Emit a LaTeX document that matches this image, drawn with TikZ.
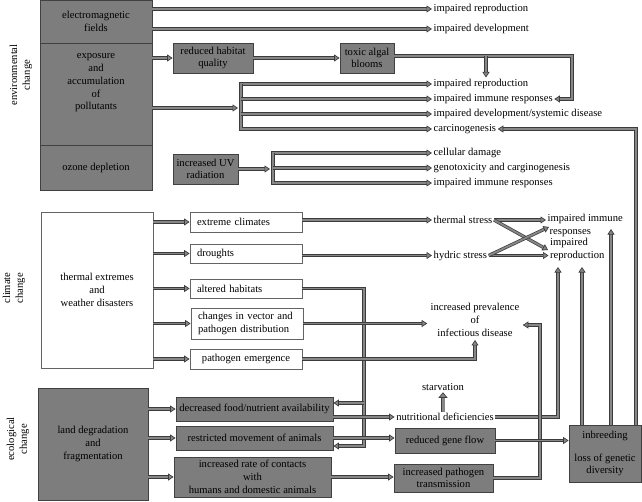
\documentclass[tikz,border=0pt]{standalone}
\usepackage{fontspec}
\setmainfont{Liberation Serif}
\usetikzlibrary{arrows.meta}
\definecolor{boxgray}{RGB}{125,125,125}
\definecolor{boxedge}{RGB}{65,65,65}
\definecolor{linein}{RGB}{135,135,135}
\definecolor{lineedge}{RGB}{60,60,60}
\definecolor{wedge}{RGB}{100,100,100}
\begin{document}
\begin{tikzpicture}[x=1pt,y=-1pt, font=\fontsize{10.6}{12.7}\selectfont,
 gbox/.style={draw=boxedge, fill=boxgray, line width=0.8pt, inner sep=1pt, align=center},
 wbox/.style={draw=wedge, fill=white, line width=0.8pt, inner xsep=7pt, inner ysep=1pt, text width=98pt, align=left},
 lbl/.style={inner sep=1.5pt, anchor=west},
 dl/.style={draw=lineedge, line width=0.7pt, double=linein, double distance=1.9pt},
 arr/.style={dl, -{Triangle[length=5.5pt,width=7pt,fill=linein]}},
 fatarr/.style={draw=lineedge, line width=0.7pt, double=linein, double distance=3pt, -{Triangle[length=5.5pt,width=9pt,fill=linein]}},
 side/.style={rotate=90, align=center}
]
\useasboundingbox (0,0) rectangle (642,501);

% side labels
\node[side] (envl) at (21,75) {environmental\\change};
\node[side] (clil) at (14,288) {climate\\change};
\node[side] (ecol) at (18,439) {ecological\\change};

% ---------------- environmental change
\node[gbox, minimum width=112pt, minimum height=43pt] (em) at (96,21.5) {electromagnetic\\fields};
\node[gbox, minimum width=112pt, minimum height=102pt] (expo) at (96,94) {};
\node[align=center] (expot) at (96,83) {exposure\\and\\accumulation\\of\\pollutants};
\node[gbox, minimum width=112pt, minimum height=45pt] (oz) at (96,167.5) {ozone depletion};

\node[gbox, minimum width=80pt, minimum height=30pt] (rhq) at (213,58) {reduced habitat\\quality};
\node[gbox, minimum width=54pt, minimum height=30pt] (tab) at (367,58) {toxic algal\\blooms};
\node[gbox, minimum width=65pt, minimum height=30pt] (uv) at (205.5,169) {increased UV\\radiation};

\node[lbl] (t1) at (432,9) {impaired reproduction};
\node[lbl] (t2) at (432,29) {impaired development};
\node[lbl] (t3) at (432,84) {impaired reproduction};
\node[lbl] (t4) at (432,99) {impaired immune responses};
\node[lbl] (t5) at (432,114) {impaired development/systemic disease};
\node[lbl] (t6) at (432,129) {carcinogenesis};
\node[lbl] (t7) at (432,153) {cellular damage};
\node[lbl] (t8) at (432,168) {genotoxicity and carginogenesis};
\node[lbl] (t9) at (432,183) {impaired immune responses};

\draw[arr] (em.east |- t1.west) -- (t1.west);
\draw[arr] (em.east |- t2.west) -- (t2.west);
\draw[arr] (expo.east |- rhq.west) -- (rhq.west);
\draw[arr] (rhq.east) -- (tab.west);
\coordinate (k1) at (572,56);
\coordinate (k2) at (486,56);
\draw[arr] (tab.east |- k1) -- (k1) |- (t4.east);
\draw[arr] (k2) -- (k2 |- t3.north);

\coordinate (bar1) at (241,108);
\coordinate (b1in) at (238,108);
\draw[arr] (expo.east |- b1in) -- (b1in);
\draw[arr] (bar1 |- t6.west) -- (bar1 |- t3.west) -- (t3.west);
\draw[arr] (bar1 |- t3.west) -- (bar1 |- t6.west) -- (t6.west);
\draw[arr] (bar1 |- t4.west) -- (t4.west);
\draw[arr] (bar1 |- t5.west) -- (t5.west);

\coordinate (bar2) at (273,169);
\coordinate (b2in) at (270,169);
\draw[arr] (uv.east) -- (b2in);
\draw[arr] (bar2 |- t9.west) -- (bar2 |- t7.west) -- (t7.west);
\draw[arr] (bar2 |- t7.west) -- (bar2 |- t9.west) -- (t9.west);
\draw[arr] (bar2 |- t8.west) -- (t8.west);

% ---------------- climate change
\node[draw=wedge, fill=white, line width=0.8pt, minimum width=112pt, minimum height=156pt, align=center] (th) at (97,290) {thermal extremes\\and\\weather disasters};
\node[wbox, minimum height=20pt] (ec) at (246,222) {extreme climates};
\node[wbox, minimum height=19pt] (dr) at (246,253.5) {droughts};
\node[wbox, minimum height=19pt] (ah) at (246,288.5) {altered habitats};
\node[wbox, minimum height=31pt] (cv) at (247,323.5) {changes in vector and\\pathogen distribution};
\node[wbox, minimum height=20pt, align=center] (pe) at (246,359) {pathogen emergence};

\foreach \b in {ec,dr,ah,cv,pe} \draw[arr] (th.east |- \b.west) -- (\b.west);

\node[lbl] (ts) at (432,220) {thermal stress};
\node[lbl] (hs) at (432,255.5) {hydric stress};
\node[lbl, align=left] (iir) at (546,225.5) {impaired immune\\\hspace*{2pt}responses};
\node[lbl, align=left] (irp) at (548.5,249.5) {impaired\\reproduction};

\draw[arr] (ts.west -| ec.east) -- (ts.west);
\draw[arr] (hs.west -| dr.east) -- (hs.west);
\coordinate (p2) at (548,250);
\coordinate (p4) at (549,227);
\draw[arr] (ts.east) -- (ts.east -| iir.west);
\draw[arr] (ts.east) -- (p2);
\draw[arr] (hs.east) -- (hs.east -| irp.west);
\draw[arr] (hs.east) -- (p4);

\node[align=center] (inf) at (475,320) {increased prevalence\\of\\infectious disease};

% altered habitats feeding down
\coordinate (h1) at (364,403);
\coordinate (h2) at (364,446);

% ---------------- ecological change
\node[gbox, minimum width=110pt, minimum height=112pt] (ld) at (93,444) {land degradation\\and\\fragmentation};
\node[gbox, minimum width=157pt, minimum height=24pt] (df) at (254.5,409) {decreased food/nutrient availability};
\node[gbox, minimum width=157pt, minimum height=24pt] (rm) at (254.5,438) {restricted movement of animals};
\node[gbox, minimum width=157pt, minimum height=40pt] (ir) at (252.5,477) {increased rate of contacts\\with\\humans and domestic animals};

\draw[arr] (ah.east) -| (h2) -- (h2 -| rm.east);
\draw[arr] (h1) -- (h1 -| df.east);

\draw[arr] (cv.east) -- (cv.east -| inf.west);
\draw[arr] (pe.east) -| (inf.south);

\foreach \b in {df,rm,ir} \draw[arr] (ld.east |- \b.west) -- (\b.west);

\node[inner sep=1.5pt] (nd) at (445,417) {nutritional deficiencies};
\node[inner sep=1.5pt] (sv) at (443,387) {starvation};
\node[gbox, minimum width=100pt, minimum height=25pt] (rg) at (445,440.5) {reduced gene flow};
\node[gbox, minimum width=99pt, minimum height=28pt] (ipt) at (443.5,478) {increased pathogen\\transmission};
\node[gbox, minimum width=72pt, minimum height=57pt] (inb) at (605,453.5) {inbreeding\\[10pt]loss of genetic\\diversity};

\draw[fatarr] (sv.south |- nd.north) -- (sv.south);
\coordinate (u1) at (558,267);
\coordinate (u2) at (540,325);
\coordinate (u3) at (582,267);
\coordinate (u4) at (611,229);
\coordinate (k3) at (636,0);
\draw[arr] (nd.east) -| (u1);
\draw[arr] (ipt.east) -| (u2) -- (u2 -| inf.east);
\draw[arr] (u3 |- inb.north) -- (u3);
\draw[arr] (u4 |- inb.north) -- (u4);
\draw[arr] (k3 |- inb.north) |- (t6.east);

\draw[arr] (df.east |- nd.west) -- (nd.west);
\draw[arr] (rm.east) -- (rm.east -| rg.west);
\draw[arr] (ir.east) -- (ir.east -| ipt.west);
\draw[arr] (rg.east) -- (rg.east -| inb.west);
\end{tikzpicture}
\end{document}
